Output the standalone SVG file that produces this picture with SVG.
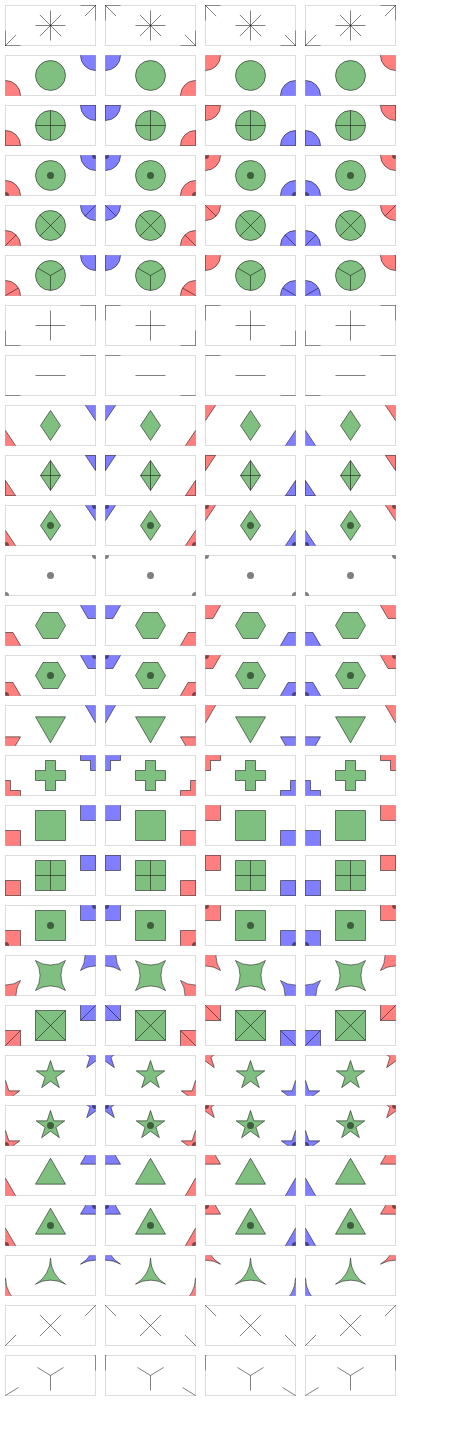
<svg xmlns="http://www.w3.org/2000/svg" xmlns:xlink="http://www.w3.org/1999/xlink" width="450" height="1450" viewBox="0 0 450 1450">
<style>
.cell{fill:none;stroke:#dddddd;stroke-width:1}
.m{stroke:#000;stroke-opacity:.5;stroke-width:1}
.g{fill:#008000;fill-opacity:.5}
.r{fill:#ff0000;fill-opacity:.5}
.b{fill:#0000ff;fill-opacity:.5}
.ln{fill:none}
.dt{fill:#000;fill-opacity:.5;stroke:none}
</style>
<defs>
<clipPath id="k"><rect x="-0.25" y="-0.25" width="90.5" height="40.5"/></clipPath>
<g id="s0"><path d="M-15,0H15"/><path d="M0,-15V15"/><path d="M-10.61,-10.61L10.61,10.61"/><path d="M-10.61,10.61L10.61,-10.61"/></g>
<circle id="s1" r="15"/>
<g id="s2"><circle r="15"/><path d="M-15,0H15M0,-15V15"/></g>
<g id="s3"><circle r="15"/><circle class="dt" r="3.5"/></g>
<g id="s4"><circle r="15"/><path d="M-10.61,-10.61L10.61,10.61M-10.61,10.61L10.61,-10.61"/></g>
<g id="s5"><circle r="15"/><path d="M0,0V15M0,0L-12.99,-7.5M0,0L12.99,-7.5"/></g>
<path id="s6" d="M-15,0H15M0,-15V15"/>
<path id="s7" d="M-15,0H15"/>
<path id="s8" d="M0,-15L10,0L0,15L-10,0Z"/>
<g id="s9"><use href="#s8"/><path d="M0,-15V15M-10,0H10"/></g>
<g id="s10"><use href="#s8"/><circle class="dt" r="3.5"/></g>
<circle id="s11" class="dt" r="3.5"/>
<path id="s12" d="M-15,0L-7.5,-12.99L7.5,-12.99L15,0L7.5,12.99L-7.5,12.99Z"/>
<g id="s13"><use href="#s12"/><circle class="dt" r="3.5"/></g>
<path id="s14" d="M-15,-8.66L15,-8.66L0,17.32Z"/>
<path id="s15" d="M-5,-15H5V-5H15V5H5V15H-5V5H-15V-5H-5Z"/>
<path id="s16" d="M-15,-15H15V15H-15Z"/>
<g id="s17"><use href="#s16"/><path d="M0,-15V15M-15,0H15"/></g>
<g id="s18"><use href="#s16"/><circle class="dt" r="3.5"/></g>
<path id="s19" d="M-15,-15A27,27 0 0 1 -15,15A27,27 0 0 1 15,15A27,27 0 0 1 15,-15A27,27 0 0 1 -15,-15Z"/>
<g id="s20"><use href="#s16"/><path d="M-15,-15L15,15M-15,15L15,-15"/></g>
<path id="s21" d="M0,-15L3.37,-4.64L14.27,-4.64L5.45,1.77L8.82,12.14L0,5.73L-8.82,12.14L-5.45,1.77L-14.27,-4.64L-3.37,-4.64Z"/>
<g id="s22"><use href="#s21"/><circle class="dt" r="3.5"/></g>
<path id="s23" d="M0,-17.32L15,8.66L-15,8.66Z"/>
<g id="s24"><use href="#s23"/><circle class="dt" r="3.5"/></g>
<path id="s25" d="M-15,8.66A30,30 0 0 1 15,8.66A30,30 0 0 1 0,-17.32A30,30 0 0 1 -15,8.66Z"/>
<path id="s26" d="M-10.61,-10.61L10.61,10.61M-10.61,10.61L10.61,-10.61"/>
<path id="s27" d="M0,0V15M0,0L-13,-8M0,0L13,-8"/>
</defs>
<g id="connectors"/>

<g id="r0c0" transform="translate(5.5,5.5)"><rect class="cell" width="90" height="40"/><g class="m ln" clip-path="url(#k)"><use href="#s0" x="45" y="20"/><use href="#s0" y="40"/><use href="#s0" x="90"/></g></g>
<g id="r0c1" transform="translate(105.5,5.5)"><rect class="cell" width="90" height="40"/><g class="m ln" clip-path="url(#k)"><use href="#s0" x="45" y="20"/><use href="#s0"/><use href="#s0" x="90" y="40"/></g></g>
<g id="r0c2" transform="translate(205.5,5.5)"><rect class="cell" width="90" height="40"/><g class="m ln" clip-path="url(#k)"><use href="#s0" x="45" y="20"/><use href="#s0"/><use href="#s0" x="90" y="40"/></g></g>
<g id="r0c3" transform="translate(305.5,5.5)"><rect class="cell" width="90" height="40"/><g class="m ln" clip-path="url(#k)"><use href="#s0" x="45" y="20"/><use href="#s0" y="40"/><use href="#s0" x="90"/></g></g>

<g id="r1c0" transform="translate(5.5,55.5)"><rect class="cell" width="90" height="40"/><g class="m" clip-path="url(#k)"><use href="#s1" x="45" y="20" class="g"/><use href="#s1" y="40" class="r"/><use href="#s1" x="90" class="b"/></g></g>
<g id="r1c1" transform="translate(105.5,55.5)"><rect class="cell" width="90" height="40"/><g class="m" clip-path="url(#k)"><use href="#s1" x="45" y="20" class="g"/><use href="#s1" class="b"/><use href="#s1" x="90" y="40" class="r"/></g></g>
<g id="r1c2" transform="translate(205.5,55.5)"><rect class="cell" width="90" height="40"/><g class="m" clip-path="url(#k)"><use href="#s1" x="45" y="20" class="g"/><use href="#s1" class="r"/><use href="#s1" x="90" y="40" class="b"/></g></g>
<g id="r1c3" transform="translate(305.5,55.5)"><rect class="cell" width="90" height="40"/><g class="m" clip-path="url(#k)"><use href="#s1" x="45" y="20" class="g"/><use href="#s1" y="40" class="b"/><use href="#s1" x="90" class="r"/></g></g>

<g id="r2c0" transform="translate(5.5,105.5)"><rect class="cell" width="90" height="40"/><g class="m" clip-path="url(#k)"><use href="#s2" x="45" y="20" class="g"/><use href="#s2" y="40" class="r"/><use href="#s2" x="90" class="b"/></g></g>
<g id="r2c1" transform="translate(105.5,105.5)"><rect class="cell" width="90" height="40"/><g class="m" clip-path="url(#k)"><use href="#s2" x="45" y="20" class="g"/><use href="#s2" class="b"/><use href="#s2" x="90" y="40" class="r"/></g></g>
<g id="r2c2" transform="translate(205.5,105.5)"><rect class="cell" width="90" height="40"/><g class="m" clip-path="url(#k)"><use href="#s2" x="45" y="20" class="g"/><use href="#s2" class="r"/><use href="#s2" x="90" y="40" class="b"/></g></g>
<g id="r2c3" transform="translate(305.5,105.5)"><rect class="cell" width="90" height="40"/><g class="m" clip-path="url(#k)"><use href="#s2" x="45" y="20" class="g"/><use href="#s2" y="40" class="b"/><use href="#s2" x="90" class="r"/></g></g>

<g id="r3c0" transform="translate(5.5,155.5)"><rect class="cell" width="90" height="40"/><g class="m" clip-path="url(#k)"><use href="#s3" x="45" y="20" class="g"/><use href="#s3" y="40" class="r"/><use href="#s3" x="90" class="b"/></g></g>
<g id="r3c1" transform="translate(105.5,155.5)"><rect class="cell" width="90" height="40"/><g class="m" clip-path="url(#k)"><use href="#s3" x="45" y="20" class="g"/><use href="#s3" class="b"/><use href="#s3" x="90" y="40" class="r"/></g></g>
<g id="r3c2" transform="translate(205.5,155.5)"><rect class="cell" width="90" height="40"/><g class="m" clip-path="url(#k)"><use href="#s3" x="45" y="20" class="g"/><use href="#s3" class="r"/><use href="#s3" x="90" y="40" class="b"/></g></g>
<g id="r3c3" transform="translate(305.5,155.5)"><rect class="cell" width="90" height="40"/><g class="m" clip-path="url(#k)"><use href="#s3" x="45" y="20" class="g"/><use href="#s3" y="40" class="b"/><use href="#s3" x="90" class="r"/></g></g>

<g id="r4c0" transform="translate(5.5,205.5)"><rect class="cell" width="90" height="40"/><g class="m" clip-path="url(#k)"><use href="#s4" x="45" y="20" class="g"/><use href="#s4" y="40" class="r"/><use href="#s4" x="90" class="b"/></g></g>
<g id="r4c1" transform="translate(105.5,205.5)"><rect class="cell" width="90" height="40"/><g class="m" clip-path="url(#k)"><use href="#s4" x="45" y="20" class="g"/><use href="#s4" class="b"/><use href="#s4" x="90" y="40" class="r"/></g></g>
<g id="r4c2" transform="translate(205.5,205.5)"><rect class="cell" width="90" height="40"/><g class="m" clip-path="url(#k)"><use href="#s4" x="45" y="20" class="g"/><use href="#s4" class="r"/><use href="#s4" x="90" y="40" class="b"/></g></g>
<g id="r4c3" transform="translate(305.5,205.5)"><rect class="cell" width="90" height="40"/><g class="m" clip-path="url(#k)"><use href="#s4" x="45" y="20" class="g"/><use href="#s4" y="40" class="b"/><use href="#s4" x="90" class="r"/></g></g>

<g id="r5c0" transform="translate(5.5,255.5)"><rect class="cell" width="90" height="40"/><g class="m" clip-path="url(#k)"><use href="#s5" x="45" y="20" class="g"/><use href="#s5" y="40" class="r"/><use href="#s5" x="90" class="b"/></g></g>
<g id="r5c1" transform="translate(105.5,255.5)"><rect class="cell" width="90" height="40"/><g class="m" clip-path="url(#k)"><use href="#s5" x="45" y="20" class="g"/><use href="#s5" class="b"/><use href="#s5" x="90" y="40" class="r"/></g></g>
<g id="r5c2" transform="translate(205.5,255.5)"><rect class="cell" width="90" height="40"/><g class="m" clip-path="url(#k)"><use href="#s5" x="45" y="20" class="g"/><use href="#s5" class="r"/><use href="#s5" x="90" y="40" class="b"/></g></g>
<g id="r5c3" transform="translate(305.5,255.5)"><rect class="cell" width="90" height="40"/><g class="m" clip-path="url(#k)"><use href="#s5" x="45" y="20" class="g"/><use href="#s5" y="40" class="b"/><use href="#s5" x="90" class="r"/></g></g>

<g id="r6c0" transform="translate(5.5,305.5)"><rect class="cell" width="90" height="40"/><g class="m ln" clip-path="url(#k)"><use href="#s6" x="45" y="20"/><use href="#s6" y="40"/><use href="#s6" x="90"/></g></g>
<g id="r6c1" transform="translate(105.5,305.5)"><rect class="cell" width="90" height="40"/><g class="m ln" clip-path="url(#k)"><use href="#s6" x="45" y="20"/><use href="#s6"/><use href="#s6" x="90" y="40"/></g></g>
<g id="r6c2" transform="translate(205.5,305.5)"><rect class="cell" width="90" height="40"/><g class="m ln" clip-path="url(#k)"><use href="#s6" x="45" y="20"/><use href="#s6"/><use href="#s6" x="90" y="40"/></g></g>
<g id="r6c3" transform="translate(305.5,305.5)"><rect class="cell" width="90" height="40"/><g class="m ln" clip-path="url(#k)"><use href="#s6" x="45" y="20"/><use href="#s6" y="40"/><use href="#s6" x="90"/></g></g>

<g id="r7c0" transform="translate(5.5,355.5)"><rect class="cell" width="90" height="40"/><g class="m ln" clip-path="url(#k)"><use href="#s7" x="45" y="20"/><use href="#s7" y="40"/><use href="#s7" x="90"/></g></g>
<g id="r7c1" transform="translate(105.5,355.5)"><rect class="cell" width="90" height="40"/><g class="m ln" clip-path="url(#k)"><use href="#s7" x="45" y="20"/><use href="#s7"/><use href="#s7" x="90" y="40"/></g></g>
<g id="r7c2" transform="translate(205.5,355.5)"><rect class="cell" width="90" height="40"/><g class="m ln" clip-path="url(#k)"><use href="#s7" x="45" y="20"/><use href="#s7"/><use href="#s7" x="90" y="40"/></g></g>
<g id="r7c3" transform="translate(305.5,355.5)"><rect class="cell" width="90" height="40"/><g class="m ln" clip-path="url(#k)"><use href="#s7" x="45" y="20"/><use href="#s7" y="40"/><use href="#s7" x="90"/></g></g>

<g id="r8c0" transform="translate(5.5,405.5)"><rect class="cell" width="90" height="40"/><g class="m" clip-path="url(#k)"><use href="#s8" x="45" y="20" class="g"/><use href="#s8" y="40" class="r"/><use href="#s8" x="90" class="b"/></g></g>
<g id="r8c1" transform="translate(105.5,405.5)"><rect class="cell" width="90" height="40"/><g class="m" clip-path="url(#k)"><use href="#s8" x="45" y="20" class="g"/><use href="#s8" class="b"/><use href="#s8" x="90" y="40" class="r"/></g></g>
<g id="r8c2" transform="translate(205.5,405.5)"><rect class="cell" width="90" height="40"/><g class="m" clip-path="url(#k)"><use href="#s8" x="45" y="20" class="g"/><use href="#s8" class="r"/><use href="#s8" x="90" y="40" class="b"/></g></g>
<g id="r8c3" transform="translate(305.5,405.5)"><rect class="cell" width="90" height="40"/><g class="m" clip-path="url(#k)"><use href="#s8" x="45" y="20" class="g"/><use href="#s8" y="40" class="b"/><use href="#s8" x="90" class="r"/></g></g>

<g id="r9c0" transform="translate(5.5,455.5)"><rect class="cell" width="90" height="40"/><g class="m" clip-path="url(#k)"><use href="#s9" x="45" y="20" class="g"/><use href="#s9" y="40" class="r"/><use href="#s9" x="90" class="b"/></g></g>
<g id="r9c1" transform="translate(105.5,455.5)"><rect class="cell" width="90" height="40"/><g class="m" clip-path="url(#k)"><use href="#s9" x="45" y="20" class="g"/><use href="#s9" class="b"/><use href="#s9" x="90" y="40" class="r"/></g></g>
<g id="r9c2" transform="translate(205.5,455.5)"><rect class="cell" width="90" height="40"/><g class="m" clip-path="url(#k)"><use href="#s9" x="45" y="20" class="g"/><use href="#s9" class="r"/><use href="#s9" x="90" y="40" class="b"/></g></g>
<g id="r9c3" transform="translate(305.5,455.5)"><rect class="cell" width="90" height="40"/><g class="m" clip-path="url(#k)"><use href="#s9" x="45" y="20" class="g"/><use href="#s9" y="40" class="b"/><use href="#s9" x="90" class="r"/></g></g>

<g id="r10c0" transform="translate(5.5,505.5)"><rect class="cell" width="90" height="40"/><g class="m" clip-path="url(#k)"><use href="#s10" x="45" y="20" class="g"/><use href="#s10" y="40" class="r"/><use href="#s10" x="90" class="b"/></g></g>
<g id="r10c1" transform="translate(105.5,505.5)"><rect class="cell" width="90" height="40"/><g class="m" clip-path="url(#k)"><use href="#s10" x="45" y="20" class="g"/><use href="#s10" class="b"/><use href="#s10" x="90" y="40" class="r"/></g></g>
<g id="r10c2" transform="translate(205.5,505.5)"><rect class="cell" width="90" height="40"/><g class="m" clip-path="url(#k)"><use href="#s10" x="45" y="20" class="g"/><use href="#s10" class="r"/><use href="#s10" x="90" y="40" class="b"/></g></g>
<g id="r10c3" transform="translate(305.5,505.5)"><rect class="cell" width="90" height="40"/><g class="m" clip-path="url(#k)"><use href="#s10" x="45" y="20" class="g"/><use href="#s10" y="40" class="b"/><use href="#s10" x="90" class="r"/></g></g>

<g id="r11c0" transform="translate(5.5,555.5)"><rect class="cell" width="90" height="40"/><g class="m" clip-path="url(#k)"><use href="#s11" x="45" y="20"/><use href="#s11" y="40"/><use href="#s11" x="90"/></g></g>
<g id="r11c1" transform="translate(105.5,555.5)"><rect class="cell" width="90" height="40"/><g class="m" clip-path="url(#k)"><use href="#s11" x="45" y="20"/><use href="#s11"/><use href="#s11" x="90" y="40"/></g></g>
<g id="r11c2" transform="translate(205.5,555.5)"><rect class="cell" width="90" height="40"/><g class="m" clip-path="url(#k)"><use href="#s11" x="45" y="20"/><use href="#s11"/><use href="#s11" x="90" y="40"/></g></g>
<g id="r11c3" transform="translate(305.5,555.5)"><rect class="cell" width="90" height="40"/><g class="m" clip-path="url(#k)"><use href="#s11" x="45" y="20"/><use href="#s11" y="40"/><use href="#s11" x="90"/></g></g>

<g id="r12c0" transform="translate(5.5,605.5)"><rect class="cell" width="90" height="40"/><g class="m" clip-path="url(#k)"><use href="#s12" x="45" y="20" class="g"/><use href="#s12" y="40" class="r"/><use href="#s12" x="90" class="b"/></g></g>
<g id="r12c1" transform="translate(105.5,605.5)"><rect class="cell" width="90" height="40"/><g class="m" clip-path="url(#k)"><use href="#s12" x="45" y="20" class="g"/><use href="#s12" class="b"/><use href="#s12" x="90" y="40" class="r"/></g></g>
<g id="r12c2" transform="translate(205.5,605.5)"><rect class="cell" width="90" height="40"/><g class="m" clip-path="url(#k)"><use href="#s12" x="45" y="20" class="g"/><use href="#s12" class="r"/><use href="#s12" x="90" y="40" class="b"/></g></g>
<g id="r12c3" transform="translate(305.5,605.5)"><rect class="cell" width="90" height="40"/><g class="m" clip-path="url(#k)"><use href="#s12" x="45" y="20" class="g"/><use href="#s12" y="40" class="b"/><use href="#s12" x="90" class="r"/></g></g>

<g id="r13c0" transform="translate(5.5,655.5)"><rect class="cell" width="90" height="40"/><g class="m" clip-path="url(#k)"><use href="#s13" x="45" y="20" class="g"/><use href="#s13" y="40" class="r"/><use href="#s13" x="90" class="b"/></g></g>
<g id="r13c1" transform="translate(105.5,655.5)"><rect class="cell" width="90" height="40"/><g class="m" clip-path="url(#k)"><use href="#s13" x="45" y="20" class="g"/><use href="#s13" class="b"/><use href="#s13" x="90" y="40" class="r"/></g></g>
<g id="r13c2" transform="translate(205.5,655.5)"><rect class="cell" width="90" height="40"/><g class="m" clip-path="url(#k)"><use href="#s13" x="45" y="20" class="g"/><use href="#s13" class="r"/><use href="#s13" x="90" y="40" class="b"/></g></g>
<g id="r13c3" transform="translate(305.5,655.5)"><rect class="cell" width="90" height="40"/><g class="m" clip-path="url(#k)"><use href="#s13" x="45" y="20" class="g"/><use href="#s13" y="40" class="b"/><use href="#s13" x="90" class="r"/></g></g>

<g id="r14c0" transform="translate(5.5,705.5)"><rect class="cell" width="90" height="40"/><g class="m" clip-path="url(#k)"><use href="#s14" x="45" y="20" class="g"/><use href="#s14" y="40" class="r"/><use href="#s14" x="90" class="b"/></g></g>
<g id="r14c1" transform="translate(105.5,705.5)"><rect class="cell" width="90" height="40"/><g class="m" clip-path="url(#k)"><use href="#s14" x="45" y="20" class="g"/><use href="#s14" class="b"/><use href="#s14" x="90" y="40" class="r"/></g></g>
<g id="r14c2" transform="translate(205.5,705.5)"><rect class="cell" width="90" height="40"/><g class="m" clip-path="url(#k)"><use href="#s14" x="45" y="20" class="g"/><use href="#s14" class="r"/><use href="#s14" x="90" y="40" class="b"/></g></g>
<g id="r14c3" transform="translate(305.5,705.5)"><rect class="cell" width="90" height="40"/><g class="m" clip-path="url(#k)"><use href="#s14" x="45" y="20" class="g"/><use href="#s14" y="40" class="b"/><use href="#s14" x="90" class="r"/></g></g>

<g id="r15c0" transform="translate(5.5,755.5)"><rect class="cell" width="90" height="40"/><g class="m" clip-path="url(#k)"><use href="#s15" x="45" y="20" class="g"/><use href="#s15" y="40" class="r"/><use href="#s15" x="90" class="b"/></g></g>
<g id="r15c1" transform="translate(105.5,755.5)"><rect class="cell" width="90" height="40"/><g class="m" clip-path="url(#k)"><use href="#s15" x="45" y="20" class="g"/><use href="#s15" class="b"/><use href="#s15" x="90" y="40" class="r"/></g></g>
<g id="r15c2" transform="translate(205.5,755.5)"><rect class="cell" width="90" height="40"/><g class="m" clip-path="url(#k)"><use href="#s15" x="45" y="20" class="g"/><use href="#s15" class="r"/><use href="#s15" x="90" y="40" class="b"/></g></g>
<g id="r15c3" transform="translate(305.5,755.5)"><rect class="cell" width="90" height="40"/><g class="m" clip-path="url(#k)"><use href="#s15" x="45" y="20" class="g"/><use href="#s15" y="40" class="b"/><use href="#s15" x="90" class="r"/></g></g>

<g id="r16c0" transform="translate(5.5,805.5)"><rect class="cell" width="90" height="40"/><g class="m" clip-path="url(#k)"><use href="#s16" x="45" y="20" class="g"/><use href="#s16" y="40" class="r"/><use href="#s16" x="90" class="b"/></g></g>
<g id="r16c1" transform="translate(105.5,805.5)"><rect class="cell" width="90" height="40"/><g class="m" clip-path="url(#k)"><use href="#s16" x="45" y="20" class="g"/><use href="#s16" class="b"/><use href="#s16" x="90" y="40" class="r"/></g></g>
<g id="r16c2" transform="translate(205.5,805.5)"><rect class="cell" width="90" height="40"/><g class="m" clip-path="url(#k)"><use href="#s16" x="45" y="20" class="g"/><use href="#s16" class="r"/><use href="#s16" x="90" y="40" class="b"/></g></g>
<g id="r16c3" transform="translate(305.5,805.5)"><rect class="cell" width="90" height="40"/><g class="m" clip-path="url(#k)"><use href="#s16" x="45" y="20" class="g"/><use href="#s16" y="40" class="b"/><use href="#s16" x="90" class="r"/></g></g>

<g id="r17c0" transform="translate(5.5,855.5)"><rect class="cell" width="90" height="40"/><g class="m" clip-path="url(#k)"><use href="#s17" x="45" y="20" class="g"/><use href="#s17" y="40" class="r"/><use href="#s17" x="90" class="b"/></g></g>
<g id="r17c1" transform="translate(105.5,855.5)"><rect class="cell" width="90" height="40"/><g class="m" clip-path="url(#k)"><use href="#s17" x="45" y="20" class="g"/><use href="#s17" class="b"/><use href="#s17" x="90" y="40" class="r"/></g></g>
<g id="r17c2" transform="translate(205.5,855.5)"><rect class="cell" width="90" height="40"/><g class="m" clip-path="url(#k)"><use href="#s17" x="45" y="20" class="g"/><use href="#s17" class="r"/><use href="#s17" x="90" y="40" class="b"/></g></g>
<g id="r17c3" transform="translate(305.5,855.5)"><rect class="cell" width="90" height="40"/><g class="m" clip-path="url(#k)"><use href="#s17" x="45" y="20" class="g"/><use href="#s17" y="40" class="b"/><use href="#s17" x="90" class="r"/></g></g>

<g id="r18c0" transform="translate(5.5,905.5)"><rect class="cell" width="90" height="40"/><g class="m" clip-path="url(#k)"><use href="#s18" x="45" y="20" class="g"/><use href="#s18" y="40" class="r"/><use href="#s18" x="90" class="b"/></g></g>
<g id="r18c1" transform="translate(105.5,905.5)"><rect class="cell" width="90" height="40"/><g class="m" clip-path="url(#k)"><use href="#s18" x="45" y="20" class="g"/><use href="#s18" class="b"/><use href="#s18" x="90" y="40" class="r"/></g></g>
<g id="r18c2" transform="translate(205.5,905.5)"><rect class="cell" width="90" height="40"/><g class="m" clip-path="url(#k)"><use href="#s18" x="45" y="20" class="g"/><use href="#s18" class="r"/><use href="#s18" x="90" y="40" class="b"/></g></g>
<g id="r18c3" transform="translate(305.5,905.5)"><rect class="cell" width="90" height="40"/><g class="m" clip-path="url(#k)"><use href="#s18" x="45" y="20" class="g"/><use href="#s18" y="40" class="b"/><use href="#s18" x="90" class="r"/></g></g>

<g id="r19c0" transform="translate(5.5,955.5)"><rect class="cell" width="90" height="40"/><g class="m" clip-path="url(#k)"><use href="#s19" x="45" y="20" class="g"/><use href="#s19" y="40" class="r"/><use href="#s19" x="90" class="b"/></g></g>
<g id="r19c1" transform="translate(105.5,955.5)"><rect class="cell" width="90" height="40"/><g class="m" clip-path="url(#k)"><use href="#s19" x="45" y="20" class="g"/><use href="#s19" class="b"/><use href="#s19" x="90" y="40" class="r"/></g></g>
<g id="r19c2" transform="translate(205.5,955.5)"><rect class="cell" width="90" height="40"/><g class="m" clip-path="url(#k)"><use href="#s19" x="45" y="20" class="g"/><use href="#s19" class="r"/><use href="#s19" x="90" y="40" class="b"/></g></g>
<g id="r19c3" transform="translate(305.5,955.5)"><rect class="cell" width="90" height="40"/><g class="m" clip-path="url(#k)"><use href="#s19" x="45" y="20" class="g"/><use href="#s19" y="40" class="b"/><use href="#s19" x="90" class="r"/></g></g>

<g id="r20c0" transform="translate(5.5,1005.5)"><rect class="cell" width="90" height="40"/><g class="m" clip-path="url(#k)"><use href="#s20" x="45" y="20" class="g"/><use href="#s20" y="40" class="r"/><use href="#s20" x="90" class="b"/></g></g>
<g id="r20c1" transform="translate(105.5,1005.5)"><rect class="cell" width="90" height="40"/><g class="m" clip-path="url(#k)"><use href="#s20" x="45" y="20" class="g"/><use href="#s20" class="b"/><use href="#s20" x="90" y="40" class="r"/></g></g>
<g id="r20c2" transform="translate(205.5,1005.5)"><rect class="cell" width="90" height="40"/><g class="m" clip-path="url(#k)"><use href="#s20" x="45" y="20" class="g"/><use href="#s20" class="r"/><use href="#s20" x="90" y="40" class="b"/></g></g>
<g id="r20c3" transform="translate(305.5,1005.5)"><rect class="cell" width="90" height="40"/><g class="m" clip-path="url(#k)"><use href="#s20" x="45" y="20" class="g"/><use href="#s20" y="40" class="b"/><use href="#s20" x="90" class="r"/></g></g>

<g id="r21c0" transform="translate(5.5,1055.5)"><rect class="cell" width="90" height="40"/><g class="m" clip-path="url(#k)"><use href="#s21" x="45" y="20" class="g"/><use href="#s21" y="40" class="r"/><use href="#s21" x="90" class="b"/></g></g>
<g id="r21c1" transform="translate(105.5,1055.5)"><rect class="cell" width="90" height="40"/><g class="m" clip-path="url(#k)"><use href="#s21" x="45" y="20" class="g"/><use href="#s21" class="b"/><use href="#s21" x="90" y="40" class="r"/></g></g>
<g id="r21c2" transform="translate(205.5,1055.5)"><rect class="cell" width="90" height="40"/><g class="m" clip-path="url(#k)"><use href="#s21" x="45" y="20" class="g"/><use href="#s21" class="r"/><use href="#s21" x="90" y="40" class="b"/></g></g>
<g id="r21c3" transform="translate(305.5,1055.5)"><rect class="cell" width="90" height="40"/><g class="m" clip-path="url(#k)"><use href="#s21" x="45" y="20" class="g"/><use href="#s21" y="40" class="b"/><use href="#s21" x="90" class="r"/></g></g>

<g id="r22c0" transform="translate(5.5,1105.5)"><rect class="cell" width="90" height="40"/><g class="m" clip-path="url(#k)"><use href="#s22" x="45" y="20" class="g"/><use href="#s22" y="40" class="r"/><use href="#s22" x="90" class="b"/></g></g>
<g id="r22c1" transform="translate(105.5,1105.5)"><rect class="cell" width="90" height="40"/><g class="m" clip-path="url(#k)"><use href="#s22" x="45" y="20" class="g"/><use href="#s22" class="b"/><use href="#s22" x="90" y="40" class="r"/></g></g>
<g id="r22c2" transform="translate(205.5,1105.5)"><rect class="cell" width="90" height="40"/><g class="m" clip-path="url(#k)"><use href="#s22" x="45" y="20" class="g"/><use href="#s22" class="r"/><use href="#s22" x="90" y="40" class="b"/></g></g>
<g id="r22c3" transform="translate(305.5,1105.5)"><rect class="cell" width="90" height="40"/><g class="m" clip-path="url(#k)"><use href="#s22" x="45" y="20" class="g"/><use href="#s22" y="40" class="b"/><use href="#s22" x="90" class="r"/></g></g>

<g id="r23c0" transform="translate(5.5,1155.5)"><rect class="cell" width="90" height="40"/><g class="m" clip-path="url(#k)"><use href="#s23" x="45" y="20" class="g"/><use href="#s23" y="40" class="r"/><use href="#s23" x="90" class="b"/></g></g>
<g id="r23c1" transform="translate(105.5,1155.5)"><rect class="cell" width="90" height="40"/><g class="m" clip-path="url(#k)"><use href="#s23" x="45" y="20" class="g"/><use href="#s23" class="b"/><use href="#s23" x="90" y="40" class="r"/></g></g>
<g id="r23c2" transform="translate(205.5,1155.5)"><rect class="cell" width="90" height="40"/><g class="m" clip-path="url(#k)"><use href="#s23" x="45" y="20" class="g"/><use href="#s23" class="r"/><use href="#s23" x="90" y="40" class="b"/></g></g>
<g id="r23c3" transform="translate(305.5,1155.5)"><rect class="cell" width="90" height="40"/><g class="m" clip-path="url(#k)"><use href="#s23" x="45" y="20" class="g"/><use href="#s23" y="40" class="b"/><use href="#s23" x="90" class="r"/></g></g>

<g id="r24c0" transform="translate(5.5,1205.5)"><rect class="cell" width="90" height="40"/><g class="m" clip-path="url(#k)"><use href="#s24" x="45" y="20" class="g"/><use href="#s24" y="40" class="r"/><use href="#s24" x="90" class="b"/></g></g>
<g id="r24c1" transform="translate(105.5,1205.5)"><rect class="cell" width="90" height="40"/><g class="m" clip-path="url(#k)"><use href="#s24" x="45" y="20" class="g"/><use href="#s24" class="b"/><use href="#s24" x="90" y="40" class="r"/></g></g>
<g id="r24c2" transform="translate(205.5,1205.5)"><rect class="cell" width="90" height="40"/><g class="m" clip-path="url(#k)"><use href="#s24" x="45" y="20" class="g"/><use href="#s24" class="r"/><use href="#s24" x="90" y="40" class="b"/></g></g>
<g id="r24c3" transform="translate(305.5,1205.5)"><rect class="cell" width="90" height="40"/><g class="m" clip-path="url(#k)"><use href="#s24" x="45" y="20" class="g"/><use href="#s24" y="40" class="b"/><use href="#s24" x="90" class="r"/></g></g>

<g id="r25c0" transform="translate(5.5,1255.5)"><rect class="cell" width="90" height="40"/><g class="m" clip-path="url(#k)"><use href="#s25" x="45" y="20" class="g"/><use href="#s25" y="40" class="r"/><use href="#s25" x="90" class="b"/></g></g>
<g id="r25c1" transform="translate(105.5,1255.5)"><rect class="cell" width="90" height="40"/><g class="m" clip-path="url(#k)"><use href="#s25" x="45" y="20" class="g"/><use href="#s25" class="b"/><use href="#s25" x="90" y="40" class="r"/></g></g>
<g id="r25c2" transform="translate(205.5,1255.5)"><rect class="cell" width="90" height="40"/><g class="m" clip-path="url(#k)"><use href="#s25" x="45" y="20" class="g"/><use href="#s25" class="r"/><use href="#s25" x="90" y="40" class="b"/></g></g>
<g id="r25c3" transform="translate(305.5,1255.5)"><rect class="cell" width="90" height="40"/><g class="m" clip-path="url(#k)"><use href="#s25" x="45" y="20" class="g"/><use href="#s25" y="40" class="b"/><use href="#s25" x="90" class="r"/></g></g>

<g id="r26c0" transform="translate(5.5,1305.5)"><rect class="cell" width="90" height="40"/><g class="m ln" clip-path="url(#k)"><use href="#s26" x="45" y="20"/><use href="#s26" y="40"/><use href="#s26" x="90"/></g></g>
<g id="r26c1" transform="translate(105.5,1305.5)"><rect class="cell" width="90" height="40"/><g class="m ln" clip-path="url(#k)"><use href="#s26" x="45" y="20"/><use href="#s26"/><use href="#s26" x="90" y="40"/></g></g>
<g id="r26c2" transform="translate(205.5,1305.5)"><rect class="cell" width="90" height="40"/><g class="m ln" clip-path="url(#k)"><use href="#s26" x="45" y="20"/><use href="#s26"/><use href="#s26" x="90" y="40"/></g></g>
<g id="r26c3" transform="translate(305.5,1305.5)"><rect class="cell" width="90" height="40"/><g class="m ln" clip-path="url(#k)"><use href="#s26" x="45" y="20"/><use href="#s26" y="40"/><use href="#s26" x="90"/></g></g>

<g id="r27c0" transform="translate(5.5,1355.5)"><rect class="cell" width="90" height="40"/><g class="m ln" clip-path="url(#k)"><use href="#s27" x="45" y="20"/><use href="#s27" y="40"/><use href="#s27" x="90"/></g></g>
<g id="r27c1" transform="translate(105.5,1355.5)"><rect class="cell" width="90" height="40"/><g class="m ln" clip-path="url(#k)"><use href="#s27" x="45" y="20"/><use href="#s27"/><use href="#s27" x="90" y="40"/></g></g>
<g id="r27c2" transform="translate(205.5,1355.5)"><rect class="cell" width="90" height="40"/><g class="m ln" clip-path="url(#k)"><use href="#s27" x="45" y="20"/><use href="#s27"/><use href="#s27" x="90" y="40"/></g></g>
<g id="r27c3" transform="translate(305.5,1355.5)"><rect class="cell" width="90" height="40"/><g class="m ln" clip-path="url(#k)"><use href="#s27" x="45" y="20"/><use href="#s27" y="40"/><use href="#s27" x="90"/></g></g>
</svg>
